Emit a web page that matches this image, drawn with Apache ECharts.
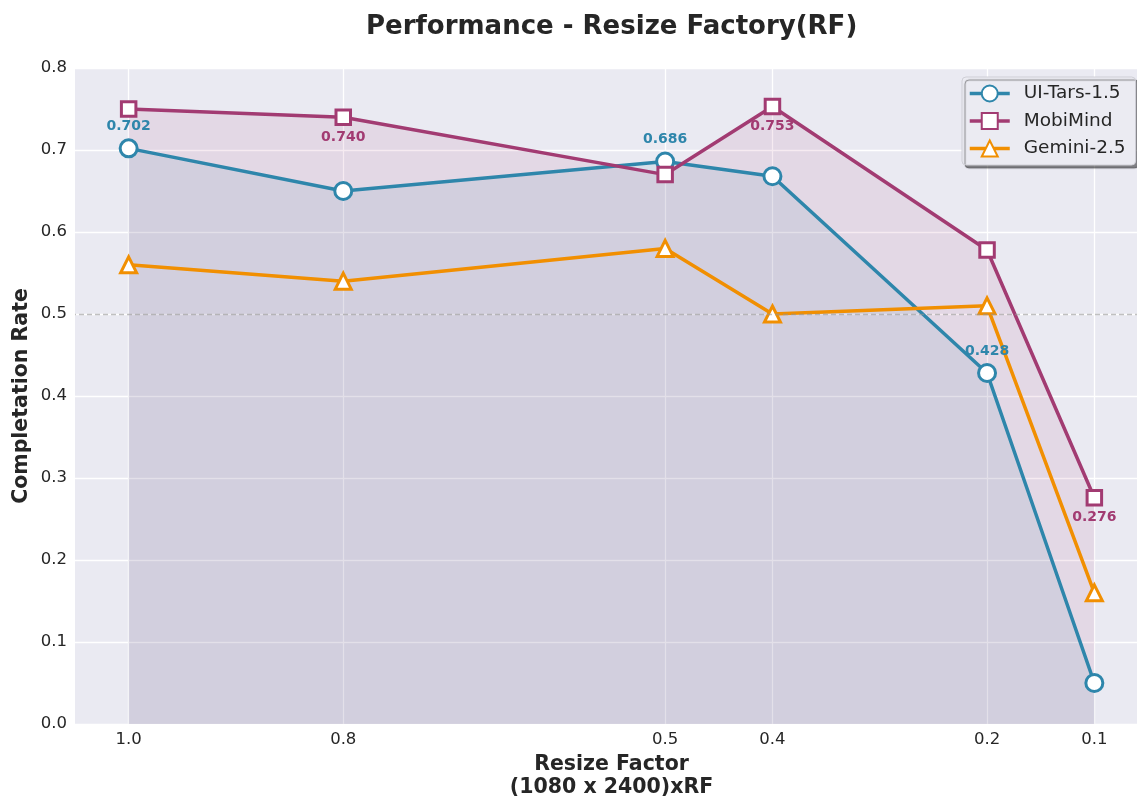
<!DOCTYPE html>
<html>
<head>
<meta charset="utf-8">
<script src="https://cdn.jsdelivr.net/npm/echarts@6/dist/echarts.min.js"></script>
<style>
  html, body { margin: 0; padding: 0; background: #ffffff; }
  #chart { width: 1137px; height: 796px; }
</style>
</head>
<body>
<div id="chart"></div>
<script>
// Resize factors (x positions) and their tick labels
const resizeFactors = [1.0, 0.8, 0.5, 0.4, 0.2, 0.1];
const xTickLabels = ['1.0', '0.8', '0.5', '0.4', '0.2', '0.1'];
const yTickValues = [0, 0.1, 0.2, 0.3, 0.4, 0.5, 0.6, 0.7, 0.8];

// Completion rate per model
const uiTars = [0.702, 0.650, 0.686, 0.668, 0.428, 0.050];
const mobiMind = [0.750, 0.740, 0.670, 0.753, 0.578, 0.276];
const gemini = [0.560, 0.540, 0.580, 0.500, 0.510, 0.160];

// Which points carry a value annotation
const uiTarsLabelled = [0, 2, 4];
const mobiMindLabelled = [1, 3, 5];

const FONT = 'DejaVu Sans';
const INK = '#262626';
const COLORS = { ui: '#2E86AB', mobi: '#A23B72', gem: '#F18F01' };

function buildData(values, labelled, position, color, distance) {
  return values.map((v, i) => {
    const item = { value: [resizeFactors[i], v] };
    if (labelled.indexOf(i) >= 0) {
      item.label = {
        show: true,
        position: position,
        distance: distance,
        formatter: (p) => p.value[1].toFixed(3),
        color: color,
        fontFamily: FONT,
        fontWeight: 'bold',
        fontSize: 14
      };
    }
    return item;
  });
}

function lineSeries(name, color, symbol, symbolSize, withArea, data) {
  const s = {
    name: name,
    type: 'line',
    data: data,
    symbol: symbol,
    symbolSize: symbolSize,
    showAllSymbol: true,
    lineStyle: { color: color, width: 3.5 },
    itemStyle: { color: '#ffffff', borderColor: color, borderWidth: 3 },
    emphasis: { disabled: true },
    z: 3
  };
  if (withArea) {
    s.areaStyle = { color: color, opacity: 0.1, origin: 'start' };
  }
  return s;
}

const chart = echarts.init(document.getElementById('chart'), null, { renderer: 'canvas' });

const option = {
  animation: false,
  backgroundColor: '#ffffff',
  title: {
    text: 'Performance - Resize Factory(RF)',
    left: 361,
    top: 9,
    textStyle: { fontFamily: FONT, fontWeight: 'bold', fontSize: 26, color: INK }
  },
  legend: {
    orient: 'vertical',
    left: 962,
    top: 77,
    itemWidth: 40,
    itemHeight: 20,
    itemGap: 8.5,
    padding: [7, 10, 7, 6],
    backgroundColor: '#EBEBF2',
    borderColor: '#cfcfd6',
    borderWidth: 1,
    borderRadius: 4,
    shadowColor: 'rgba(0,0,0,0.45)',
    shadowOffsetX: 3,
    shadowOffsetY: 3,
    shadowBlur: 1,
    lineStyle: { width: 3.5 },
    textStyle: { fontFamily: FONT, fontSize: 18.5, color: INK, padding: [0, 0, 0, 9] },
    data: ['UI-Tars-1.5', 'MobiMind', 'Gemini-2.5']
  },
  grid: {
    left: 75,
    right: -11,
    top: 68,
    bottom: 72,
    show: true,
    backgroundColor: '#EAEAF2',
    borderWidth: 0,
    containLabel: false,
    outerBoundsMode: 'none'
  },
  xAxis: {
    type: 'value',
    inverse: true,
    min: 0.05,
    max: 1.05,
    interval: 0.05,
    name: 'Resize Factor\n(1080 x 2400)xRF',
    nameLocation: 'middle',
    nameGap: 25,
    nameTextStyle: { fontFamily: FONT, fontWeight: 'bold', fontSize: 20.5, color: INK, lineHeight: 23 },
    axisLine: { show: false },
    axisTick: { show: false },
    splitLine: { show: false },
    axisLabel: {
      margin: 7,
      fontFamily: FONT,
      fontSize: 16.5,
      color: INK,
      formatter: (v) => {
        for (let i = 0; i < resizeFactors.length; i++) {
          if (Math.abs(v - resizeFactors[i]) < 1e-6) return xTickLabels[i];
        }
        return '';
      }
    }
  },
  yAxis: {
    type: 'value',
    min: yTickValues[0],
    max: yTickValues[yTickValues.length - 1],
    interval: 0.1,
    name: 'Completation Rate',
    nameLocation: 'middle',
    nameGap: 43,
    nameMoveOverlap: false,
    nameTextStyle: { fontFamily: FONT, fontWeight: 'bold', fontSize: 20.5, color: INK },
    axisLine: { show: false },
    axisTick: { show: false },
    splitLine: { show: true, lineStyle: { color: '#ffffff', width: 1.3 } },
    axisLabel: {
      margin: 8,
      fontFamily: FONT,
      fontSize: 16.5,
      color: INK,
      formatter: (v) => v.toFixed(1)
    }
  },
  series: [
    {
      // vertical grid lines at each resize factor
      name: 'grid',
      type: 'line',
      data: [],
      silent: true,
      z: 1,
      markLine: {
        z: 1,
        silent: true,
        symbol: ['none', 'none'],
        label: { show: false },
        emphasis: { disabled: true },
        lineStyle: { color: '#ffffff', width: 1.3, type: 'solid' },
        data: resizeFactors.map((v) => ({ xAxis: v }))
      }
    },
    lineSeries('UI-Tars-1.5', COLORS.ui, 'circle', 17, true,
      buildData(uiTars, uiTarsLabelled, 'top', COLORS.ui, 5)),
    lineSeries('MobiMind', COLORS.mobi, 'rect', 14.5, true,
      buildData(mobiMind, mobiMindLabelled, 'bottom', COLORS.mobi, 4)),
    Object.assign(
      lineSeries('Gemini-2.5', COLORS.gem, 'triangle', 16, false,
        buildData(gemini, [], 'top', COLORS.gem, 5)),
      {
        markLine: {
          silent: true,
          symbol: ['none', 'none'],
          label: { show: false },
          emphasis: { disabled: true },
          lineStyle: { color: 'rgba(150,150,150,0.6)', width: 1.3, type: [5, 3] },
          data: [{ yAxis: 0.5 }]
        }
      }
    )
  ]
};

chart.setOption(option);
</script>
</body>
</html>
